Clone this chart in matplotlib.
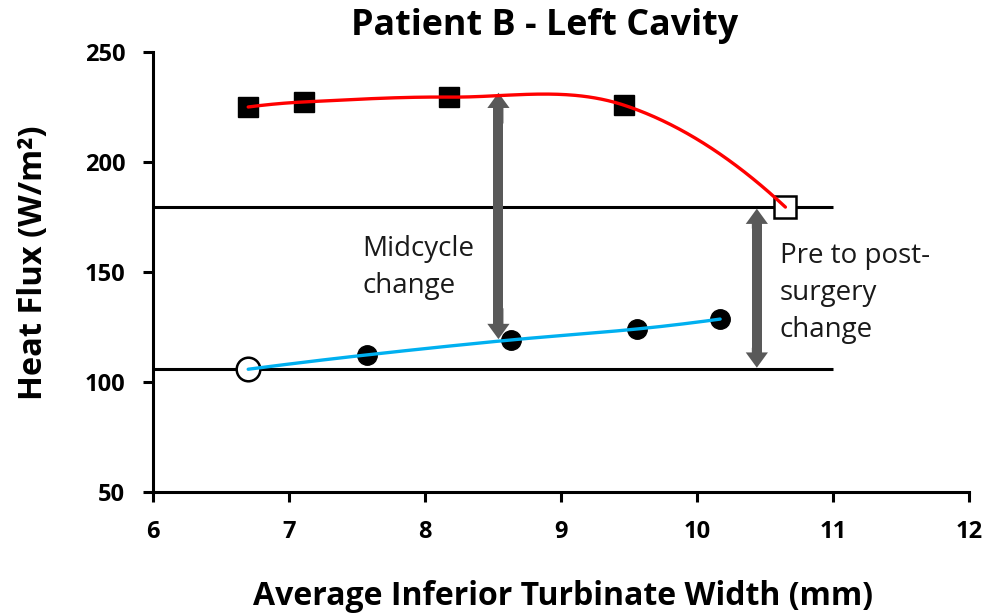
import numpy as np
import matplotlib
matplotlib.use('Agg')
import matplotlib.pyplot as plt
from matplotlib.patches import FancyArrowPatch

plt.rcParams['font.family'] = ['Open Sans', 'DejaVu Sans']

# ---- data ----
mid_x = [6.70, 7.11, 8.18, 9.46]          # midcycle (filled squares)
mid_y = [225.0, 227.3, 229.5, 225.9]
pre_x = [10.65]                            # pre-surgery (open square)
pre_y = [179.5]
post_x = [6.70]                            # post-surgery (open circle)
post_y = [105.8]
post_mid_x = [7.57, 8.63, 9.56, 10.17]     # post-surgery midcycle (filled circles)
post_mid_y = [112.3, 119.1, 124.1, 128.6]
mid_arrow_x = 8.54
mid_arrow_y = [231.5, 119.5]
surg_arrow_x = 10.44
surg_arrow_y = [178.8, 106.5]
x_ticks = [6, 7, 8, 9, 10, 11, 12]
y_ticks = [50, 100, 150, 200, 250]


def smooth(x, y, n=80):
    """Cubic Hermite curve y(x) through the points, Catmull-Rom slopes,
    parabolic end conditions."""
    x = np.asarray(x, float)
    y = np.asarray(y, float)
    k = len(x)
    d = np.diff(y) / np.diff(x)
    m = np.zeros(k)
    for i in range(1, k - 1):
        m[i] = (y[i + 1] - y[i - 1]) / (x[i + 1] - x[i - 1])
    m[0] = 2 * d[0] - m[1]
    m[-1] = 2 * d[-1] - m[-2]
    xs, ys = [], []
    for i in range(k - 1):
        h = x[i + 1] - x[i]
        t = np.linspace(0, 1, n)
        h00 = 2 * t**3 - 3 * t**2 + 1
        h10 = t**3 - 2 * t**2 + t
        h01 = -2 * t**3 + 3 * t**2
        h11 = t**3 - t**2
        xs.append(x[i] + t * h)
        ys.append(h00 * y[i] + h10 * h * m[i] + h01 * y[i + 1] + h11 * h * m[i + 1])
    return np.concatenate(xs), np.concatenate(ys)


W, H = 991, 614
fig = plt.figure(figsize=(W / 100, H / 100), dpi=100)
ax = fig.add_axes([153 / W, 1 - 492 / H, 816 / W, 440 / H])
ax.set_xlim(6, 12)
ax.set_ylim(50, 250)
ax.set_xticks(x_ticks)
ax.set_yticks(y_ticks)
for s in ['top', 'right']:
    ax.spines[s].set_visible(False)
for s in ['left', 'bottom']:
    ax.spines[s].set_linewidth(2.2)
ax.tick_params(axis='both', direction='out', width=2.2, length=7, labelsize=17)
ax.tick_params(axis='y', pad=13)
ax.tick_params(axis='x', pad=13)
for lab in ax.get_xticklabels() + ax.get_yticklabels():
    lab.set_fontweight('bold')

# horizontal reference lines
ax.hlines([pre_y[0], post_y[0]], 6, 11, color='black', lw=2.2, zorder=2)

# markers
ax.plot(mid_x, mid_y, 's', color='black', ms=14, zorder=3)
ax.plot(pre_x, pre_y, 's', mfc='white', mec='black', mew=1.8, ms=16, zorder=3)
ax.plot(post_mid_x, post_mid_y, 'o', color='black', ms=14, zorder=3)
ax.plot(post_x, post_y, 'o', mfc='white', mec='black', mew=1.8, ms=17, zorder=3)

# smoothed lines
rx, ry = smooth(mid_x + pre_x, mid_y + pre_y)
ax.plot(rx, ry, color='#ff0000', lw=2.4, zorder=4, solid_capstyle='round')
bx, by = smooth(post_x + post_mid_x, post_y + post_mid_y)
ax.plot(bx, by, color='#00b0f0', lw=2.4, zorder=4, solid_capstyle='round')

# double arrows
GREY = '#595959'


def double_arrow(x, y0, y1):
    ax.vlines(x, min(y0, y1) + 5, max(y0, y1) - 5, color=GREY, lw=7.2, zorder=3.5,
              capstyle='butt')
    ym = (y0 + y1) / 2.0
    for yt in (y0, y1):
        ys = yt + (ym - yt) * 0.25
        a = FancyArrowPatch((x, ys), (x, yt),
                            arrowstyle='simple,head_length=1.1,head_width=1.6,tail_width=0.72',
                            mutation_scale=10, color=GREY, lw=0, shrinkA=0, shrinkB=0,
                            zorder=3.5)
        ax.add_patch(a)


double_arrow(mid_arrow_x, mid_arrow_y[0], mid_arrow_y[1])
double_arrow(surg_arrow_x, surg_arrow_y[0], surg_arrow_y[1])

ax.text(7.54, 140.5, 'Midcycle\nchange', fontsize=20, ha='left', va='baseline',
        color='#1a1a1a', linespacing=1.42)
ax.text(10.61, 120.5, 'Pre to post-\nsurgery\nchange', fontsize=20, ha='left', va='baseline',
        color='#1a1a1a', linespacing=1.42)

fig.text(545 / W, 1 - 35 / H, 'Patient B - Left Cavity', fontsize=25.8, fontweight='bold',
         ha='center', va='baseline')
fig.text(563 / W, 1 - 605 / H, 'Average Inferior Turbinate Width (mm)', fontsize=23,
         fontweight='bold', ha='center', va='baseline')
fig.text(42 / W, 1 - 263 / H, 'Heat Flux (W/m²)', fontsize=23.5, fontweight='bold',
         rotation=90, rotation_mode='anchor', ha='center', va='baseline')

fig.savefig('out.png', dpi=100)
